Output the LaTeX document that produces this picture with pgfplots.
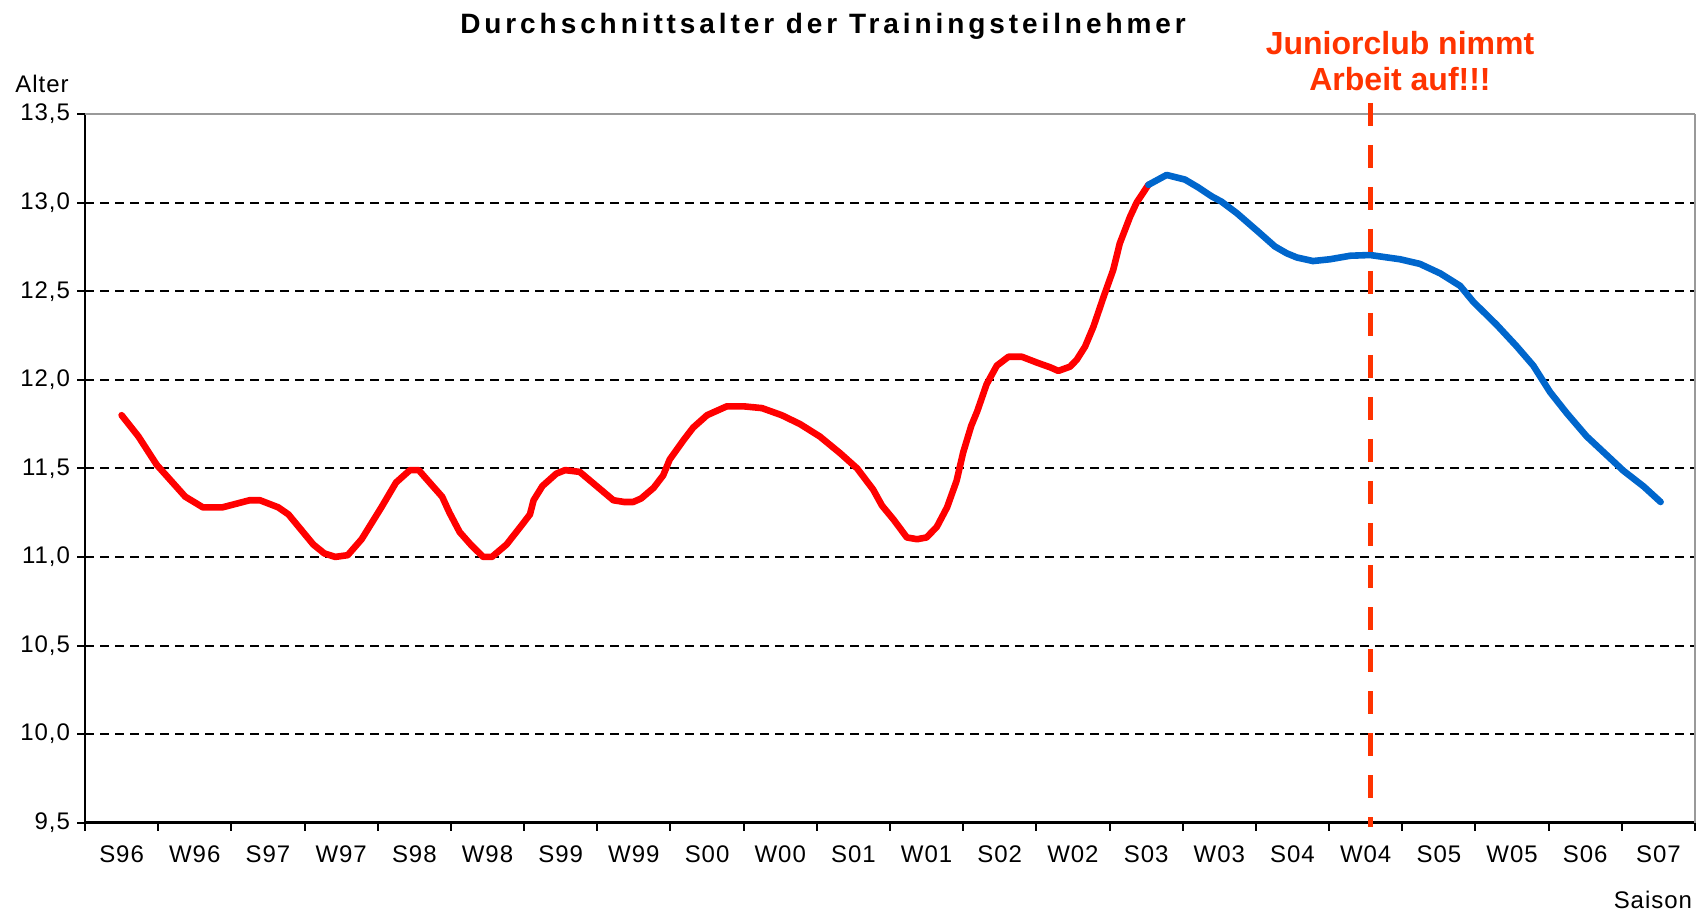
\documentclass[border=0pt]{standalone}
\usepackage{fontspec}
\setmainfont{Liberation Sans}
\usepackage{pgfplots}
\pgfplotsset{compat=1.18}
\definecolor{cred}{HTML}{FF0000}
\definecolor{cblue}{HTML}{0066CC}
\definecolor{corange}{HTML}{FF3300}
\begin{document}
\begin{tikzpicture}
\begin{axis}[
  scale only axis, width=805pt, height=354.35pt,
  xmin=-0.5, xmax=21.5, ymin=9.5, ymax=13.5,
  axis x line*=bottom, axis y line*=left,
  axis line style={line width=1.2pt, black, -},
  xtick={-0.5,0.5,1.5,2.5,3.5,4.5,5.5,6.5,7.5,8.5,9.5,10.5,11.5,12.5,13.5,14.5,15.5,16.5,17.5,18.5,19.5,20.5,21.5},
  xticklabels={S96,W96,S97,W97,S98,W98,S99,W99,S00,W00,S01,W01,S02,W02,S03,W03,S04,W04,S05,W05,S06,S07,{}},
  xticklabel style={xshift=18.3pt, yshift=-4pt, font=\fontsize{12}{14}\selectfont\addfontfeatures{LetterSpace=4}},
  ytick={9.5,10,10.5,11,11.5,12,12.5,13,13.5},
  yticklabel style={font=\fontsize{12}{14}\selectfont\addfontfeatures{LetterSpace=4},
    /pgf/number format/fixed, /pgf/number format/fixed zerofill,
    /pgf/number format/precision=1, /pgf/number format/use comma,
    /pgf/number format/assume math mode=true},
  tick align=outside,
  major tick length=4pt,
  tick style={black, line width=1pt},
  ymajorgrids,
  grid style={black, line width=1pt, dash pattern=on 4.5pt off 3pt},
  clip=false,
]
\coordinate (O) at (rel axis cs:0,0);
\draw[gray!80, line width=1pt] (rel axis cs:0,1) -- (rel axis cs:1,1);
\draw[gray!80, line width=0.8pt] (rel axis cs:1,0) -- (rel axis cs:1,1);
\addplot[cred, line width=3.3pt, line join=round, line cap=round] coordinates {
(0.00,11.80) (0.23,11.68) (0.48,11.52) (0.87,11.34) (1.11,11.28) (1.38,11.28)
(1.75,11.32) (1.89,11.32) (2.14,11.28) (2.28,11.24) (2.62,11.07) (2.77,11.02)
(2.92,11.00) (3.09,11.01) (3.28,11.10) (3.55,11.28) (3.65,11.35) (3.75,11.42)
(3.94,11.49) (4.06,11.49) (4.23,11.41) (4.38,11.34) (4.48,11.25) (4.62,11.14)
(4.77,11.07) (4.94,11.00) (5.06,11.00) (5.26,11.07) (5.45,11.17) (5.58,11.24)
(5.63,11.32) (5.75,11.40) (5.94,11.47) (6.06,11.49) (6.26,11.48) (6.72,11.32)
(6.87,11.31) (6.99,11.31) (7.10,11.33) (7.27,11.39) (7.40,11.46) (7.49,11.55)
(7.68,11.66) (7.81,11.73) (8.00,11.80) (8.27,11.85) (8.50,11.85) (8.75,11.84)
(9.02,11.80) (9.27,11.75) (9.54,11.68) (9.82,11.585) (10.05,11.50) (10.27,11.38)
(10.39,11.29) (10.55,11.21) (10.73,11.11) (10.87,11.10) (11.00,11.11) (11.14,11.17)
(11.28,11.28) (11.41,11.43) (11.50,11.59) (11.61,11.74) (11.69,11.82) (11.82,11.975)
(11.96,12.08) (12.12,12.13) (12.30,12.13) (12.52,12.095) (12.69,12.07) (12.80,12.05)
(12.96,12.074) (13.05,12.112) (13.165,12.187) (13.28,12.30) (13.42,12.47) (13.55,12.62)
(13.64,12.77) (13.78,12.92) (13.87,13.00) (14.03,13.10)
};
\addplot[cblue, line width=3.3pt, line join=round, line cap=round] coordinates {
(14.03,13.10) (14.28,13.156) (14.53,13.13) (14.71,13.086) (14.90,13.034) (15.03,13.005)
(15.24,12.94) (15.53,12.836) (15.76,12.752) (15.92,12.714) (16.06,12.69) (16.28,12.67)
(16.51,12.68) (16.79,12.70) (17.06,12.704) (17.47,12.68) (17.74,12.654) (18.02,12.60)
(18.29,12.53) (18.47,12.44) (18.79,12.31) (19.06,12.19) (19.29,12.08) (19.52,11.93)
(19.75,11.81) (20.02,11.68) (20.29,11.576) (20.52,11.487) (20.80,11.397) (21.03,11.31)
};
\draw[corange, line width=2.5pt, dash pattern=on 11.5pt off 9.5pt]
  ([yshift=5.5pt]axis cs:17.06,13.5) -- ([yshift=-2pt]axis cs:17.06,9.5);
\end{axis}
\begin{scope}[shift={(O)}]
\node[font=\bfseries\fontsize{14}{16}\selectfont\addfontfeatures{LetterSpace=14}] at (369pt,398pt) {Durchschnittsalter der Trainingsteilnehmer};
\node[font=\fontsize{12}{14}\selectfont\addfontfeatures{LetterSpace=4}] at (-21.5pt,369.35pt) {Alter};
\node[font=\fontsize{12}{14}\selectfont\addfontfeatures{LetterSpace=4}, anchor=east] at (807pt,-38.65pt) {Saison};
\node[align=center, font=\bfseries\fontsize{16}{18}\selectfont, text=corange] at (657.5pt,381pt) {Juniorclub nimmt\\Arbeit auf!!!};
\pgfresetboundingbox
\useasboundingbox (-42.5pt,-45.15pt) rectangle (807.5pt,411.35pt);
\end{scope}
\end{tikzpicture}
\end{document}
